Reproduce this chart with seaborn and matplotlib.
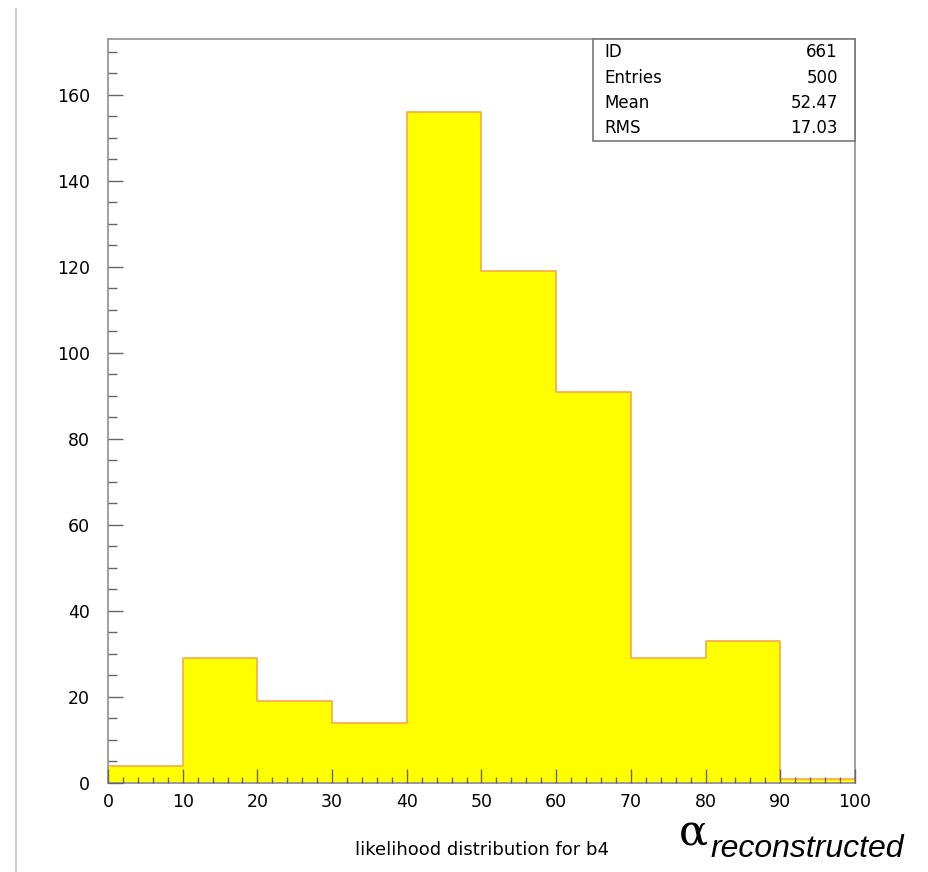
# ROOT-style histogram of reconstructed alpha (likelihood distribution for b4)
import numpy as np
import matplotlib
matplotlib.use("Agg")
import matplotlib.pyplot as plt
from matplotlib.ticker import MultipleLocator
from matplotlib.patches import Rectangle
from matplotlib.lines import Line2D
import seaborn as sns

sns.set_style("white")
plt.rcParams['font.family'] = ['DejaVu Sans']
plt.rcParams['text.color'] = 'black'

# DATA
bin_edges   = [0, 10, 20, 30, 40, 50, 60, 70, 80, 90, 100]
bin_centers = [5, 15, 25, 35, 45, 55, 65, 75, 85, 95]
counts      = [4, 29, 19, 14, 156, 119, 91, 29, 33, 1]

stat_names  = ['ID', 'Entries', 'Mean', 'RMS']
stat_values = ['661', '500', '52.47', '17.03']

x_title = 'likelihood distribution for b4'

# Figure
W, H = 929, 872
fig = plt.figure(figsize=(W / 100, H / 100), dpi=100)
fig.patch.set_facecolor('white')
ax = fig.add_axes([108 / W, 89 / H, 747 / W, 744 / H])

sns.histplot(x=bin_centers, weights=counts, bins=bin_edges,
             element='step', fill=True, color='#ffff00', alpha=1,
             edgecolor='#f7a84a', linewidth=1.2, ax=ax)

ax.set_xlim(0, 100)
ax.set_ylim(0, 173)
ax.set_xlabel('')
ax.set_ylabel('')
ax.set_axisbelow(False)   # ticks on top of the fill, like ROOT

# axis ticks like ROOT
ax.xaxis.set_major_locator(MultipleLocator(10))
ax.xaxis.set_minor_locator(MultipleLocator(2))
ax.yaxis.set_major_locator(MultipleLocator(20))
ax.yaxis.set_minor_locator(MultipleLocator(5))
ax.tick_params(axis='x', which='major', direction='in', length=10, width=1,
               color='#666666', pad=7, labelsize=12.5, labelcolor='black',
               bottom=True, top=False)
ax.tick_params(axis='x', which='minor', direction='in', length=4.5, width=1,
               color='#666666', bottom=True, top=False)
ax.tick_params(axis='y', which='major', direction='in', length=11, width=1,
               color='#666666', pad=13, labelsize=12.5, labelcolor='black',
               left=True, right=False)
ax.tick_params(axis='y', which='minor', direction='in', length=6.5, width=1,
               color='#666666', left=True, right=False)

for side in ['left', 'right', 'top', 'bottom']:
    ax.spines[side].set_visible(True)
    ax.spines[side].set_color('#999999')
    ax.spines[side].set_linewidth(1.3)

# stats box
ax.add_patch(Rectangle((0.649, 0.863), 0.351, 0.137, transform=ax.transAxes,
                       facecolor='white', edgecolor='#777777', linewidth=1.2,
                       zorder=5, clip_on=False))
row_y = [0.983, 0.948, 0.914, 0.880]
for name, val, yy in zip(stat_names, stat_values, row_y):
    ax.text(0.665, yy, name, transform=ax.transAxes, ha='left', va='center',
            fontsize=12, color='black', zorder=6)
    ax.text(0.977, yy, val, transform=ax.transAxes, ha='right', va='center',
            fontsize=12, color='black', zorder=6)

# axis titles
fig.text(482 / W, 1 - 850 / H, x_title, ha='center', va='center',
         fontsize=13, color='black')
fig.text(679 / W, 1 - 845 / H, 'α', family='DejaVu Serif', fontsize=31,
         ha='left', va='baseline', color='black')
fig.text(710 / W, 1 - 857 / H, 'reconstructed', family='Liberation Sans',
         style='italic', fontsize=23, ha='left', va='baseline', color='black')

# page border line on the left
fig.add_artist(Line2D([16 / W, 16 / W], [0, 1 - 9 / H], transform=fig.transFigure,
                      color='#cccccc', linewidth=1.5))

fig.savefig('out.png', dpi=100)
